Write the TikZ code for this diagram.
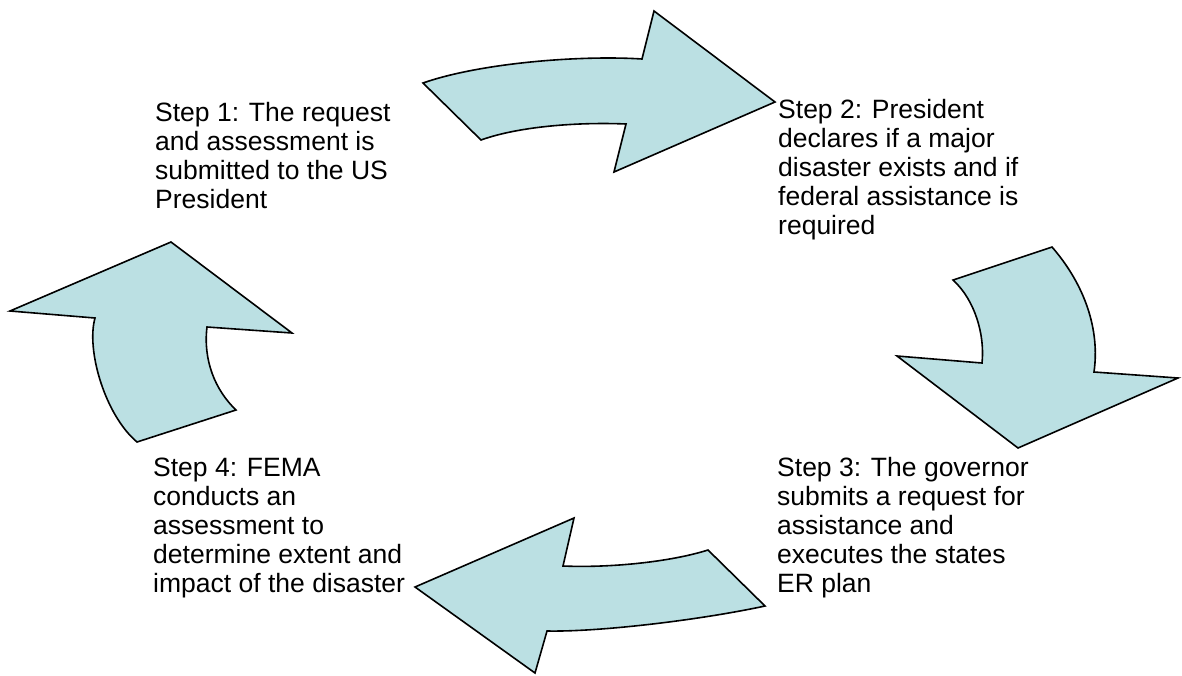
\documentclass[tikz,border=0pt]{standalone}
\usepackage{fontspec}
\setmainfont{Liberation Sans}
\definecolor{arrowblue}{HTML}{BBE0E3}

\begin{document}
\begin{tikzpicture}[x=1pt, y=-1pt,
  bluearrow/.style={fill=arrowblue, draw=black, line width=1.6pt, line join=miter},
  steptext/.style={anchor=base west, align=left, inner sep=0pt, font=\fontsize{26.5}{29}\selectfont}]

\useasboundingbox (0,0) rectangle (1182,675);

% top arrow, step 1 to step 2
\draw[bluearrow] (423,83) .. controls (480,63) and (580,55) .. (642,59) -- (654,11) -- (775,102)
  -- (614,172) -- (626,124) .. controls (580,122) and (520,126) .. (481,140) -- cycle;

% right arrow, step 2 to step 3
\draw[bluearrow] (953,280) -- (1052,247) .. controls (1085,285) and (1100,330) .. (1094,372)
  -- (1178,378) -- (1018,448) -- (897,356) -- (982,363) .. controls (985,335) and (975,300) .. (953,280) -- cycle;

% bottom arrow, step 3 to step 4
\draw[bluearrow] (708,550) -- (765,606) .. controls (700,620) and (600,632) .. (547,631)
  -- (535,673) -- (415,587) -- (574,518) -- (563,566) .. controls (610,568) and (670,562) .. (708,550) -- cycle;

% left arrow, step 4 to step 1
\draw[bluearrow] (137,442) .. controls (105,415) and (86,350) .. (95,318) -- (10,311) -- (171,242)
  -- (292,333) -- (207,327) .. controls (203,360) and (215,390) .. (236,410) -- cycle;

% texts, placed at the baseline of their last line
\node[steptext] (step1) at (155,208) {Step 1: The request\\and assessment is\\submitted to the US\\President};
\node[steptext] (step2) at (778,234) {Step 2: President\\declares if a major\\disaster exists and if\\federal assistance is\\required};
\node[steptext] (step3) at (777,592) {Step 3: The governor\\submits a request for\\assistance and\\executes the states\\ER plan};
\node[steptext] (step4) at (153,592) {Step 4: FEMA\\conducts an\\assessment to\\determine extent and\\impact of the disaster};

\end{tikzpicture}
\end{document}
